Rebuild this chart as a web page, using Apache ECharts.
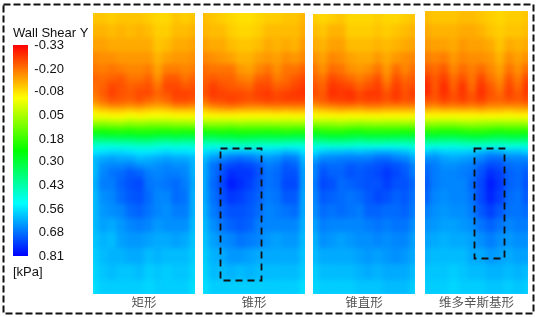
<!DOCTYPE html>
<html><head><meta charset="utf-8">
<script src="https://cdn.jsdelivr.net/npm/echarts@6/dist/echarts.min.js"></script>
<style>
html,body{margin:0;padding:0;background:#fff;overflow:hidden}
#clip,#maps,#ink{position:absolute;left:0;top:0;width:539px;height:317px}
#clip{clip-path:path('M93 13H195V294H93Z M203 13H305V294H203Z M313 14H415V294H313Z M425 11H528V294H425Z')}
#maps{filter:blur(2.4px)}
</style></head><body>
<div id="clip"><div id="maps"></div></div><div id="ink"></div>
<script>
const legendTitle='Wall Shear Y';
const legendUnit='[kPa]';
const legendTicks=[-0.33,-0.20,-0.08,0.05,0.18,0.30,0.43,0.56,0.68,0.81];
const rampColors=['#ff0000','#ffff00','#00ff00','#00ffff','#0000ff'];
const panelNames=['矩形','锥形','锥直形','维多辛斯基形'];
const rowEdges=[4,24,38,52,64,74,82,90,96,103,108.5,113.5,118.5,123.5,128.5,133.5,138.5,143.5,149,155,162,169,178,190,204,218,232,248,264,280,300];
const panel1=[
[-.11,-.11,-.10,-.11,-.11,-.11,-.10,-.09,-.09,-.11,-.10,-.11],
[-.13,-.13,-.12,-.13,-.12,-.13,-.12,-.10,-.10,-.12,-.12,-.13],
[-.15,-.15,-.14,-.14,-.14,-.14,-.14,-.11,-.12,-.14,-.14,-.15],
[-.18,-.17,-.17,-.16,-.16,-.16,-.16,-.13,-.15,-.16,-.16,-.17],
[-.20,-.19,-.20,-.19,-.18,-.18,-.19,-.15,-.19,-.19,-.18,-.19],
[-.22,-.21,-.22,-.23,-.20,-.20,-.22,-.17,-.23,-.23,-.20,-.22],
[-.21,-.22,-.25,-.24,-.22,-.23,-.24,-.20,-.25,-.25,-.23,-.24],
[-.20,-.23,-.26,-.24,-.23,-.25,-.25,-.22,-.24,-.26,-.26,-.25],
[-.18,-.21,-.24,-.23,-.22,-.24,-.22,-.20,-.22,-.25,-.25,-.24],
[-.13,-.16,-.18,-.18,-.17,-.18,-.16,-.15,-.16,-.19,-.19,-.18],
[-.07,-.09,-.10,-.10,-.09,-.10,-.09,-.08,-.09,-.10,-.10,-.10],
[-.03,-.04,-.05,-.05,-.04,-.05,-.04,-.04,-.04,-.05,-.05,-.05],
[.03,.04,.03,.02,.04,.03,.04,.04,.04,.03,.03,.02],
[.12,.12,.11,.11,.12,.11,.12,.12,.12,.11,.11,.11],
[.21,.22,.21,.20,.21,.20,.20,.21,.21,.20,.21,.20],
[.31,.31,.30,.30,.30,.29,.29,.30,.31,.30,.31,.30],
[.40,.40,.40,.39,.39,.38,.38,.40,.40,.39,.40,.40],
[.48,.49,.49,.48,.48,.47,.47,.48,.49,.48,.49,.48],
[.55,.56,.57,.57,.56,.55,.55,.56,.57,.56,.56,.55],
[.60,.62,.63,.62,.62,.60,.61,.62,.63,.62,.62,.60],
[.60,.65,.66,.66,.67,.65,.64,.65,.66,.65,.65,.61],
[.60,.66,.68,.69,.71,.70,.67,.66,.67,.67,.66,.61],
[.61,.67,.67,.70,.72,.73,.68,.67,.68,.69,.67,.62],
[.60,.65,.66,.69,.71,.72,.69,.66,.66,.69,.68,.61],
[.60,.64,.65,.66,.69,.70,.68,.66,.65,.67,.67,.61],
[.60,.63,.62,.64,.66,.67,.66,.64,.65,.65,.65,.60],
[.59,.61,.60,.63,.64,.64,.63,.62,.62,.63,.62,.59],
[.58,.60,.61,.61,.62,.62,.60,.61,.60,.60,.60,.58],
[.57,.59,.60,.59,.59,.60,.58,.59,.58,.59,.59,.57],
[.56,.58,.58,.58,.58,.58,.57,.58,.58,.58,.58,.56]];
const panel2=[
[-.12,-.11,-.10,-.09,-.08,-.08,-.09,-.10,-.10,-.11,-.11,-.13],
[-.13,-.12,-.12,-.10,-.09,-.09,-.10,-.12,-.12,-.12,-.12,-.14],
[-.15,-.14,-.14,-.12,-.11,-.11,-.12,-.14,-.13,-.14,-.13,-.16],
[-.18,-.17,-.16,-.15,-.13,-.13,-.15,-.16,-.15,-.17,-.16,-.18],
[-.21,-.20,-.20,-.20,-.16,-.15,-.18,-.20,-.17,-.20,-.20,-.22],
[-.22,-.23,-.22,-.22,-.19,-.18,-.22,-.23,-.19,-.21,-.23,-.25],
[-.23,-.26,-.24,-.23,-.22,-.21,-.25,-.25,-.22,-.23,-.25,-.27],
[-.24,-.27,-.26,-.25,-.25,-.24,-.26,-.27,-.25,-.26,-.27,-.28],
[-.21,-.25,-.25,-.26,-.25,-.24,-.25,-.26,-.25,-.26,-.26,-.26],
[-.16,-.19,-.20,-.21,-.20,-.19,-.19,-.20,-.20,-.20,-.20,-.20],
[-.09,-.11,-.12,-.12,-.11,-.11,-.11,-.11,-.12,-.11,-.12,-.12],
[-.04,-.05,-.05,-.05,-.05,-.05,-.05,-.05,-.05,-.05,-.05,-.05],
[.03,.03,.03,.03,.02,.03,.03,.03,.02,.03,.02,.02],
[.12,.11,.11,.12,.11,.11,.11,.11,.11,.10,.11,.11],
[.21,.21,.20,.21,.20,.20,.20,.21,.20,.19,.20,.20],
[.31,.31,.30,.30,.29,.30,.30,.30,.30,.30,.31,.30],
[.40,.40,.39,.39,.38,.38,.39,.39,.39,.40,.40,.40],
[.48,.49,.49,.48,.47,.47,.48,.49,.49,.49,.50,.49],
[.56,.58,.59,.60,.60,.60,.59,.58,.59,.61,.60,.56],
[.60,.64,.66,.68,.69,.68,.66,.64,.65,.68,.67,.60],
[.62,.68,.71,.73,.74,.73,.71,.67,.68,.71,.70,.62],
[.62,.68,.72,.76,.75,.75,.72,.68,.69,.72,.72,.63],
[.62,.69,.73,.78,.76,.74,.71,.68,.69,.73,.73,.63],
[.62,.68,.72,.75,.74,.72,.70,.67,.68,.71,.71,.62],
[.61,.67,.70,.72,.72,.71,.69,.66,.67,.68,.69,.62],
[.60,.65,.68,.70,.71,.70,.67,.66,.66,.66,.66,.61],
[.59,.63,.65,.66,.68,.67,.66,.64,.63,.64,.64,.60],
[.58,.61,.62,.64,.64,.63,.62,.62,.62,.62,.62,.59],
[.57,.60,.60,.61,.60,.61,.60,.60,.60,.60,.60,.58],
[.56,.58,.58,.58,.58,.58,.58,.58,.58,.58,.58,.56]];
const panel3=[
[-.10,-.09,-.10,-.11,-.09,-.09,-.09,-.10,-.09,-.09,-.10,-.11],
[-.12,-.11,-.13,-.13,-.10,-.10,-.10,-.11,-.10,-.11,-.12,-.13],
[-.14,-.13,-.15,-.15,-.12,-.12,-.12,-.13,-.12,-.13,-.14,-.15],
[-.17,-.15,-.18,-.17,-.15,-.14,-.14,-.16,-.14,-.16,-.17,-.18],
[-.20,-.17,-.21,-.20,-.17,-.16,-.17,-.20,-.16,-.21,-.18,-.21],
[-.22,-.20,-.25,-.23,-.21,-.19,-.21,-.24,-.18,-.24,-.21,-.23],
[-.24,-.22,-.27,-.26,-.25,-.22,-.24,-.26,-.21,-.26,-.23,-.25],
[-.25,-.23,-.28,-.27,-.28,-.25,-.27,-.27,-.24,-.27,-.24,-.27],
[-.22,-.23,-.26,-.26,-.27,-.25,-.26,-.26,-.24,-.26,-.24,-.25],
[-.16,-.18,-.19,-.20,-.20,-.19,-.20,-.20,-.19,-.19,-.19,-.19],
[-.09,-.10,-.11,-.12,-.11,-.11,-.12,-.12,-.11,-.11,-.11,-.11],
[-.04,-.05,-.05,-.05,-.05,-.05,-.05,-.05,-.05,-.05,-.05,-.05],
[.03,.03,.03,.02,.03,.03,.03,.02,.03,.03,.02,.03],
[.12,.11,.11,.10,.11,.12,.11,.11,.11,.11,.11,.11],
[.21,.20,.19,.19,.21,.21,.20,.20,.20,.20,.21,.20],
[.31,.30,.29,.29,.30,.31,.30,.30,.30,.30,.31,.30],
[.40,.39,.38,.38,.39,.40,.39,.39,.39,.40,.40,.40],
[.48,.49,.48,.48,.48,.49,.49,.49,.50,.49,.49,.48],
[.56,.59,.60,.60,.61,.60,.61,.62,.62,.61,.60,.57],
[.62,.66,.66,.67,.67,.67,.67,.69,.69,.67,.66,.62],
[.66,.70,.69,.69,.71,.70,.71,.72,.73,.72,.70,.66],
[.66,.72,.70,.70,.72,.71,.72,.73,.75,.73,.71,.67],
[.67,.73,.72,.69,.70,.71,.72,.72,.74,.72,.72,.69],
[.66,.71,.70,.69,.68,.69,.71,.73,.72,.70,.71,.68],
[.65,.69,.68,.69,.68,.67,.70,.70,.69,.69,.70,.67],
[.63,.67,.66,.66,.66,.66,.67,.68,.67,.68,.68,.65],
[.61,.65,.64,.63,.64,.65,.65,.66,.65,.66,.66,.63],
[.60,.62,.62,.62,.62,.63,.64,.63,.64,.65,.64,.62],
[.58,.60,.60,.60,.60,.61,.62,.61,.62,.62,.62,.60],
[.57,.58,.58,.58,.58,.59,.59,.59,.60,.60,.60,.58]];
const panel4=[
[-.12,-.11,-.11,-.11,-.12,-.12,-.11,-.10,-.09,-.10,-.10,-.11],
[-.14,-.13,-.13,-.13,-.14,-.14,-.13,-.11,-.10,-.11,-.11,-.12],
[-.16,-.15,-.15,-.14,-.16,-.15,-.15,-.14,-.11,-.14,-.13,-.14],
[-.19,-.18,-.19,-.16,-.18,-.17,-.17,-.16,-.13,-.17,-.15,-.17],
[-.23,-.21,-.23,-.18,-.21,-.19,-.21,-.18,-.15,-.20,-.17,-.21],
[-.27,-.23,-.26,-.21,-.24,-.20,-.25,-.20,-.17,-.23,-.19,-.25],
[-.29,-.23,-.28,-.22,-.27,-.21,-.27,-.23,-.19,-.25,-.21,-.27],
[-.29,-.24,-.28,-.24,-.27,-.23,-.28,-.24,-.21,-.26,-.23,-.27],
[-.25,-.23,-.26,-.24,-.26,-.24,-.26,-.23,-.22,-.24,-.23,-.25],
[-.19,-.18,-.20,-.19,-.20,-.19,-.20,-.18,-.18,-.18,-.18,-.19],
[-.11,-.10,-.11,-.11,-.11,-.11,-.12,-.11,-.11,-.10,-.11,-.11],
[-.05,-.05,-.05,-.04,-.05,-.05,-.05,-.05,-.05,-.04,-.05,-.05],
[.03,.03,.03,.03,.02,.02,.03,.03,.03,.03,.03,.02],
[.11,.11,.12,.12,.11,.10,.10,.11,.12,.11,.11,.11],
[.20,.20,.21,.21,.20,.19,.19,.20,.21,.20,.20,.20],
[.30,.30,.31,.31,.30,.29,.29,.30,.31,.30,.30,.30],
[.39,.39,.40,.40,.39,.38,.38,.39,.40,.39,.39,.39],
[.49,.49,.49,.49,.48,.48,.48,.49,.49,.49,.49,.49],
[.58,.60,.58,.58,.58,.59,.61,.63,.62,.60,.60,.58],
[.65,.65,.63,.62,.63,.64,.66,.69,.69,.66,.66,.66],
[.69,.67,.65,.65,.66,.67,.70,.73,.72,.69,.68,.69],
[.70,.67,.66,.66,.67,.68,.72,.76,.74,.70,.69,.71],
[.71,.67,.66,.66,.66,.69,.73,.78,.75,.70,.69,.72],
[.70,.66,.65,.66,.66,.68,.73,.77,.74,.69,.68,.71],
[.67,.65,.64,.65,.65,.67,.71,.74,.71,.68,.68,.69],
[.65,.64,.63,.63,.64,.65,.68,.70,.68,.66,.67,.67],
[.63,.62,.61,.62,.62,.63,.65,.67,.65,.64,.65,.65],
[.61,.60,.60,.60,.60,.62,.62,.64,.63,.62,.63,.63],
[.59,.59,.59,.58,.59,.60,.60,.61,.61,.60,.61,.60],
[.58,.58,.58,.57,.58,.58,.58,.59,.59,.58,.59,.58]];
const panels=[panel1,panel2,panel3,panel4];

/* layout, in pixels of the page; each grid runs past the visible panel so the blur keeps full colour at the edges */
const boxes=[{l:93,t:13,w:102},{l:203,t:13,w:102},{l:313,t:14,w:102},{l:425,t:11,w:103}];
const bottomEdge=294, bleed=4;
const vMin=legendTicks[0], vMax=legendTicks[legendTicks.length-1];

function renderCell(params,api){
  const a=api.coord([api.value(0),api.value(1)]);
  const b=api.coord([api.value(0)+1,api.value(2)]);
  const r=echarts.graphic.clipRectByRect(
    {x:a[0],y:a[1],width:b[0]-a[0]+.6,height:b[1]-a[1]+.6},params.coordSys);
  return r&&{type:'rect',shape:r,style:{fill:api.visual('color')},silent:true};
}
const maps=echarts.init(document.getElementById('maps'),null,{renderer:'canvas'});
maps.setOption({
  animation:false,backgroundColor:'#fff',
  visualMap:{type:'continuous',show:false,min:vMin,max:vMax,dimension:3,inRange:{color:rampColors}},
  grid:boxes.map(b=>({left:b.l-bleed,top:b.t-bleed,width:b.w+2*bleed,height:bottomEdge-b.t+2*bleed})),
  xAxis:boxes.map((b,i)=>({type:'value',gridIndex:i,min:0,max:12,show:false})),
  yAxis:boxes.map((b,i)=>({type:'value',gridIndex:i,inverse:true,min:b.t-bleed,max:bottomEdge+bleed,show:false})),
  series:panels.map((rows,i)=>({
    type:'custom',xAxisIndex:i,yAxisIndex:i,renderItem:renderCell,
    encode:{x:0,y:[1,2]},
    data:rows.flatMap((row,r)=>row.map((v,c)=>[c,rowEdges[r],rowEdges[r+1],v]))
  }))
});

const ink=echarts.init(document.getElementById('ink'),null,{renderer:'canvas'});
const dash=(x,y,w,h,pat,lw)=>({type:'rect',shape:{x,y,width:w,height:h},
  style:{fill:'none',stroke:'#111',lineWidth:lw,lineDash:pat}});
const txt=(x,y,text,font,fill,align)=>({type:'text',x,y,
  style:{text,font,fill,align:align||'left',verticalAlign:'middle'}});
ink.setOption({
  animation:false,backgroundColor:'transparent',
  grid:{left:13,top:45,width:15,height:211},
  xAxis:{type:'value',show:false,min:0,max:1},
  yAxis:{type:'value',inverse:true,position:'right',min:vMin,max:vMax,
    splitLine:{show:false},axisLine:{show:false},axisTick:{show:false},
    axisLabel:{customValues:legendTicks,margin:36,align:'right',color:'#111',fontSize:13,
      fontFamily:'Liberation Sans',formatter:v=>v.toFixed(2)}},
  series:[],
  graphic:[
    {type:'rect',shape:{x:13,y:45,width:15,height:211},style:{
      fill:new echarts.graphic.LinearGradient(0,0,0,1,rampColors.map((color,i)=>({offset:i/(rampColors.length-1),color})))}},
    dash(3.5,4.5,530,309,[7,3],2),
    dash(220.5,148.5,41,132,[7,5],1.8),
    dash(474.5,148.5,30,110,[7,5],1.8),
    txt(13,33,legendTitle,'13px "Liberation Sans"','#111'),
    txt(13,272,legendUnit,'13px "Liberation Sans"','#111'),
    ...panelNames.map((n,i)=>txt(boxes[i].l+boxes[i].w/2,302,n,'12.5px "Noto Sans CJK SC"','#555','center'))
  ]
});
</script></body></html>
